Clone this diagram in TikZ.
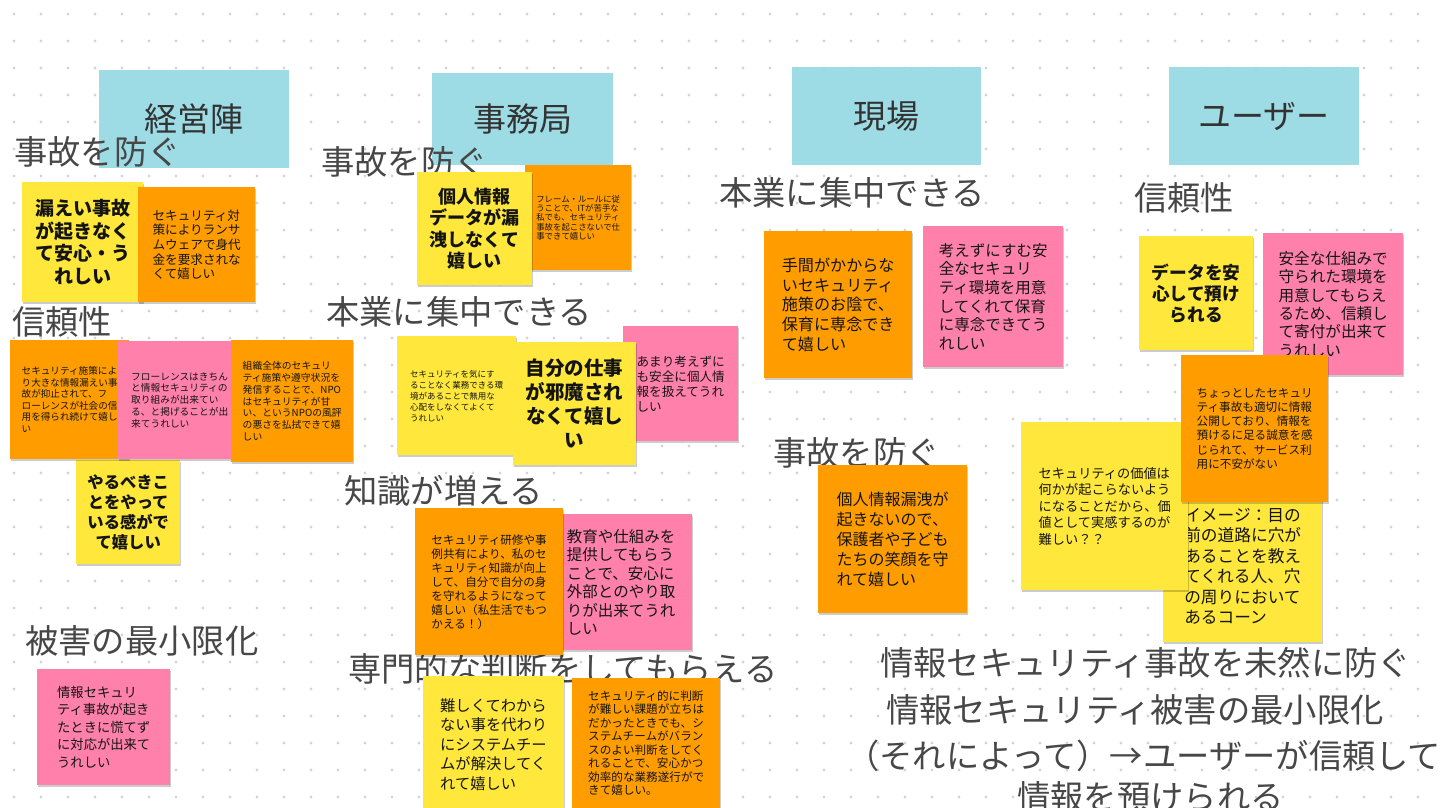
\documentclass[tikz,border=0pt]{standalone}
\usepackage{fontspec}
\setmainfont{Noto Sans CJK JP}
\usetikzlibrary{shadows}
\definecolor{noteY}{HTML}{FFE83B}
\definecolor{noteO}{HTML}{FF9D00}
\definecolor{noteP}{HTML}{FF80AA}
\definecolor{hdrC}{HTML}{9DDCE4}
\definecolor{txtG}{HTML}{474747}
\definecolor{dotC}{HTML}{D4D4D4}
\newcommand{\fsz}[2]{\fontsize{#1}{#2}\selectfont}
\tikzset{
  sticky/.style={inner sep=0pt, anchor=north west, text=black!92,
    drop shadow={shadow xshift=0.6pt, shadow yshift=-2.2pt, opacity=0.2, fill=black}},
  yel/.style={sticky, fill=noteY},
  org/.style={sticky, fill=noteO},
  pnk/.style={sticky, fill=noteP},
  hdr/.style={fill=hdrC, inner sep=0pt, anchor=north west, text=black!80, font=\fsz{33}{36}},
  lbl/.style={anchor=west, inner sep=0pt, text=txtG, font=\fsz{33.3}{36}},
}
\begin{document}
\begin{tikzpicture}[x=1pt,y=-1pt]
\useasboundingbox (0,0) rectangle (1440,807);
\fill[white] (0,0) rectangle (1440,807);
\foreach \i in {0,...,53} {\foreach \j in {0,...,29} {\fill[dotC] (14+27*\i,14+27*\j) circle (1.6);}}

% headers
\node[hdr, minimum width=190, minimum height=98] (hA) at (99,70) {経営陣};
\node[hdr, minimum width=181, minimum height=92] (hB) at (432,73) {事務局};
\node[hdr, minimum width=189, minimum height=98] (hC) at (792,67) {現場};
\node[hdr, minimum width=190, minimum height=98] (hD) at (1169,67) {ユーザー};

% category labels
\node[lbl] (lA1) at (14,152) {事故を防ぐ};
\node[lbl] (lA2) at (12,322) {信頼性};
\node[lbl] (lA3) at (25,641) {被害の最小限化};
\node[lbl] (lB1) at (321,162) {事故を防ぐ};
\node[lbl] (lB2) at (326,312) {本業に集中できる};
\node[lbl] (lB3) at (344,491) {知識が増える};
\node[lbl] (lB4) at (348,669) {専門的な判断をしてもらえる};
\node[lbl] (lC1) at (719,193) {本業に集中できる};
\node[lbl] (lC2) at (773,453) {事故を防ぐ};
\node[lbl] (lD1) at (1134,198) {信頼性};
\node[lbl] (b1) at (880,663) {情報セキュリティ事故を未然に防ぐ};
\node[lbl] (b2) at (886,710) {情報セキュリティ被害の最小限化};
\node[lbl] (b3) at (846,756) {（それによって）→ユーザーが信頼して};
\node[lbl] (b4) at (1017,797) {情報を預けられる};

% ---- 経営陣 column
\node[yel, minimum width=121, minimum height=120, align=center, font=\bfseries\fsz{19}{22.5}] (n1) at (22,182) {漏えい事故\\が起きなく\\て安心・う\\れしい};
\node[org, minimum width=117, minimum height=115, align=left, font=\fsz{12.6}{14.7}] (n2) at (138,187) {セキュリティ対\\策によりランサ\\ムウェアで身代\\金を要求されな\\くて嬉しい};
\node[yel, minimum width=104, minimum height=104, align=center, font=\bfseries\fsz{16.3}{20}] (n7) at (76,460) {やるべきこ\\とをやって\\いる感がで\\て嬉しい};
\node[org, minimum width=119, minimum height=119, align=left, font=\fsz{9.6}{11.5}] (n4) at (10,340) {セキュリティ施策によ\\り大きな情報漏えい事\\故が抑止されて、フ\\ローレンスが社会の信\\用を得られ続けて嬉し\\い};
\node[pnk, minimum width=123, minimum height=118, align=left, font=\fsz{9.7}{11.7}] (n5) at (118,341) {フローレンスはきちん\\と情報セキュリティの\\取り組みが出来てい\\る、と掲げることが出\\来てうれしい};
\node[org, minimum width=122, minimum height=122, align=left, font=\fsz{9.8}{11.8}] (n6) at (231,340) {組織全体のセキュリ\\ティ施策や遵守状況を\\発信することで、NPO\\はセキュリティが甘\\い、というNPOの風評\\の悪さを払拭できて嬉\\しい};
\node[pnk, minimum width=133, minimum height=116, align=left, font=\fsz{13.3}{17.5}] (n9) at (37,669) {情報セキュリ\\ティ事故が起き\\たときに慌てず\\に対応が出来て\\うれしい};

% ---- 事務局 column
\node[org, minimum width=106, minimum height=105, align=left, font=\fsz{8.4}{9.3}] (n11) at (525,165) {フレーム・ルールに従\\うことで、ITが苦手な\\私でも、セキュリティ\\事故を起こさないで仕\\事できて嬉しい};
\node[yel, minimum width=115, minimum height=113, align=center, font=\bfseries\fsz{18}{21.5}] (n10) at (417,172) {個人情報\\データが漏\\洩しなくて\\嬉しい};
\node[yel, minimum width=119, minimum height=119, align=left, font=\fsz{8.5}{11}] (n12) at (397,336) {セキュリティを気にす\\ることなく業務できる環\\境があることで無用な\\心配をしなくてよくて\\うれしい};
\node[pnk, minimum width=115, minimum height=115, align=left, font=\fsz{12.6}{15}] (n14) at (623,326) {あまり考えずに\\も安全に個人情\\報を扱えてうれ\\しい};
\node[yel, minimum width=123, minimum height=123, align=center, font=\bfseries\fsz{19.5}{24}] (n13) at (513,342) {自分の仕事\\が邪魔され\\なくて嬉し\\い};
\node[pnk, minimum width=142, minimum height=136, align=left, font=\fsz{15.5}{18.5}] (n16) at (550,514) {教育や仕組みを\\提供してもらう\\ことで、安心に\\外部とのやり取\\りが出来てうれ\\しい};
\node[org, minimum width=148, minimum height=147, align=left, font=\fsz{11.6}{14}] (n15) at (415,508) {セキュリティ研修や事\\例共有により、私のセ\\キュリティ知識が向上\\して、自分で自分の身\\を守れるようになって\\嬉しい（私生活でもつ\\かえる！）};
\node[yel, minimum width=141, minimum height=136, align=left, font=\fsz{15.3}{19.5}] (n17) at (423,676) {難しくてわから\\ない事を代わり\\にシステムチー\\ムが解決してく\\れて嬉しい};
\node[org, minimum width=148, minimum height=130, align=left, font=\fsz{11.6}{13.5}] (n18) at (572,678) {セキュリティ的に判断\\が難しい課題が立ちは\\だかったときでも、シ\\ステムチームがバラン\\スのよい判断をしてく\\れることで、安心かつ\\効率的な業務遂行がで\\きて嬉しい。};

% ---- 現場 column
\node[org, minimum width=148, minimum height=147, align=left, font=\fsz{16.1}{19.7}] (n19) at (764,231) {手間がかからな\\いセキュリティ\\施策のお陰で、\\保育に専念でき\\て嬉しい};
\node[pnk, minimum width=140, minimum height=141, align=left, font=\fsz{15.5}{18.7}] (n20) at (923,226) {考えずにすむ安\\全なセキュリ\\ティ環境を用意\\してくれて保育\\に専念できてう\\れしい};
\node[org, minimum width=149, minimum height=148, align=left, font=\fsz{16}{20}] (n21) at (818,465) {個人情報漏洩が\\起きないので、\\保護者や子ども\\たちの笑顔を守\\れて嬉しい};

% ---- ユーザー column
\node[yel, minimum width=114, minimum height=114, align=center, font=\bfseries\fsz{17.7}{21}] (n22) at (1139,236) {データを安\\心して預け\\られる};
\node[pnk, minimum width=140, minimum height=142, align=left, font=\fsz{15.6}{18.3}] (n23) at (1263,233) {安全な仕組みで\\守られた環境を\\用意してもらえ\\るため、信頼し\\て寄付が出来て\\うれしい};
\node[yel, minimum width=159, minimum height=152, align=left, font=\fsz{16.7}{20.4}] (n26) at (1163,490) {イメージ：目の\\前の道路に穴が\\あることを教え\\てくれる人、穴\\の周りにおいて\\あるコーン};
\node[yel, minimum width=167, minimum height=168, align=left, font=\fsz{13.2}{16.5}] (n25) at (1021,422) {セキュリティの価値は\\何かが起こらないよう\\になることだから、価\\値として実感するのが\\難しい？？};
\node[org, minimum width=147, minimum height=147, align=left, font=\fsz{11.6}{14.2}] (n24) at (1181,355) {ちょっとしたセキュリ\\ティ事故も適切に情報\\公開しており、情報を\\預けるに足る誠意を感\\じられて、サービス利\\用に不安がない};
\end{tikzpicture}
\end{document}
